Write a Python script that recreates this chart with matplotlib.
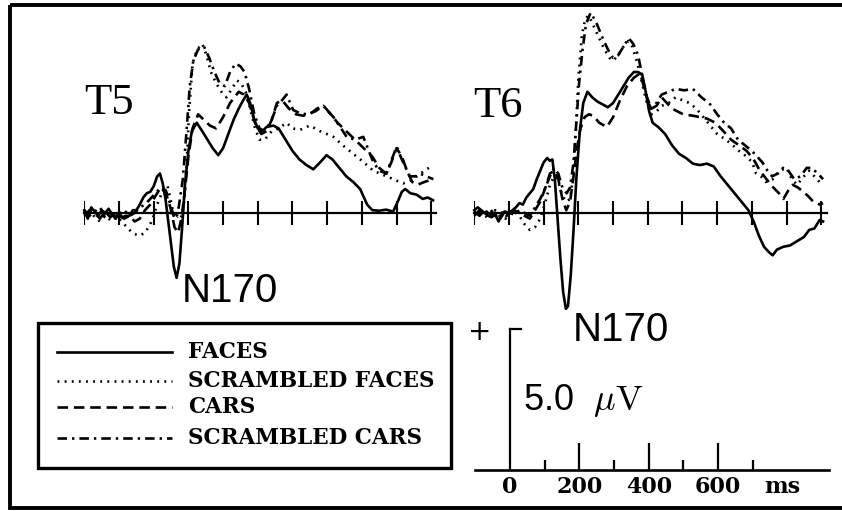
"""ERP waveforms at T5 / T6 for faces, cars and their scrambled versions."""
import matplotlib
matplotlib.use('Agg')
import matplotlib.pyplot as plt
from matplotlib.patches import Rectangle

plt.rcParams['mathtext.fontset'] = 'cm'

# ---- data (time in ms, amplitude in microvolts) ----
t5_faces_t = [-100, -90, -80, -70, -60, -50, -40, -30, -20, -10, 0,
              10, 20, 30, 40, 50, 60, 70, 80, 90, 100, 110,
              118, 126, 134, 142, 150, 158, 166, 174, 182, 190,
              200, 210, 224, 240, 255, 270, 286, 300, 315, 330, 345, 358, 368, 378, 390, 400, 410, 425, 445, 460,
              480, 500, 520, 540, 560, 580, 598, 615, 635, 655, 675, 695, 715, 730, 750, 770, 790, 805, 815, 825,
              840, 858, 875, 890, 905]
t5_faces_v = [0.1, -0.2, 0.2, 0.05, -0.1, 0.1, 0.0, 0.15, -0.05, -0.2, 0.0,
              -0.15, -0.1, -0.1, 0.1, 0.1, 0.3, 0.55, 0.7, 0.75, 0.95, 1.3,
              1.4, 1.05, 0.5, -0.3, -1.1, -1.9, -2.3, -1.8, -0.5, 1.0,
              2.2, 2.9, 3.2, 2.9, 2.6, 2.3, 2.05, 2.3, 2.8, 3.3, 3.7, 4.0, 4.2, 3.9, 3.3, 3.0, 2.85, 3.05, 3.1, 3.0,
              2.6, 2.2, 1.9, 1.7, 1.55, 1.8, 2.05, 1.9, 1.6, 1.3, 1.1, 0.85, 0.3, 0.1, 0.08, 0.12, 0.05, 0.45, 0.75,
              0.85, 0.7, 0.65, 0.5, 0.55, 0.45]

t5_scr_faces_t = [-100, -85, -70, -55, -40, -25, -10, 0, 15, 30, 45, 60, 75, 90,
                  100, 110, 120, 130, 140, 150, 160, 170,
                  178, 186, 194, 202, 212, 225, 240, 252, 265, 280, 295, 310, 325, 340, 352, 365, 378, 392, 405,
                  420, 440, 460, 483, 500, 522, 550, 580, 618, 645, 675, 705, 733, 771, 800, 819, 840, 858, 880, 906]
t5_scr_faces_v = [0.0, 0.15, -0.15, -0.3, -0.1, -0.25, -0.1, -0.2, -0.4, -0.6, -0.75, -0.8, -0.7, -0.4,
                  -0.1, 0.3, 0.6, 0.9, 0.95, 0.4, -0.2, -0.1,
                  -0.2, 0.2, 1.5, 3.6, 5.3, 5.8, 6.0, 5.6, 5.0, 4.6, 4.3, 4.1, 4.4, 4.7, 4.6, 4.3, 3.7, 3.0, 2.6,
                  2.6, 2.9, 3.0, 3.2, 3.0, 2.95, 3.1, 2.9, 2.7, 2.4, 2.1, 1.8, 1.5, 1.3, 1.15, 1.05, 1.15, 1.3, 1.5, 1.7]

t5_cars_t = [-100, -85, -70, -55, -40, -25, -10, 0, 15, 30, 45, 60, 75, 90,
             105, 120, 135, 148, 160, 170, 180, 190, 200, 212,
             228, 245, 262, 280, 300, 320, 345, 360, 375, 392,
             410, 425, 440, 455, 470, 490, 510, 530, 550, 570,
             590, 610, 630, 655, 680, 705, 730, 750, 770, 785,
             800, 815, 830, 845, 860, 880, 905]
t5_cars_v = [-0.1, 0.1, 0.0, -0.2, 0.05, -0.15, 0.0, -0.1, -0.2, -0.1, -0.3, -0.2, 0.1, 0.3,
             0.6, 0.9, 0.7, 0.2, -0.5, -0.7, -0.2, 0.8, 2.0, 3.0,
             3.5, 3.3, 3.1, 3.0, 3.4, 3.9, 4.3, 4.2, 3.9, 3.2,
             2.8, 2.9, 3.3, 3.9, 4.0, 3.7, 3.5, 3.45, 3.5, 3.7,
             3.8, 3.5, 3.2, 2.9, 2.6, 2.3, 2.0, 1.6, 1.4, 1.8,
             2.3, 2.0, 1.5, 1.1, 1.0, 1.1, 1.2]

t5_scr_cars_t = [-100, -85, -70, -55, -40, -25, -10, 0, 15, 30, 45, 60, 75, 90,
                 105, 120, 135, 148, 160, 172, 184, 194, 204, 214,
                 228, 245, 260, 275, 290, 305, 320, 336, 350, 362,
                 375, 390, 405, 420, 440, 455, 470, 483, 502, 520,
                 540, 565, 589, 618, 640, 656, 680, 704, 720, 733,
                 750, 771, 786, 800, 815, 838, 855, 867, 885, 906]
t5_scr_cars_v = [0.1, -0.1, 0.05, 0.2, -0.1, 0.0, -0.2, 0.0, 0.1, -0.1, 0.0, 0.2, 0.3, 0.5,
                 0.7, 0.9, 0.8, 0.3, -0.2, 0.2, 1.2, 2.8, 4.5, 5.4,
                 5.8, 5.9, 5.5, 5.0, 4.6, 4.5, 5.0, 5.3, 5.2, 5.0,
                 4.4, 3.5, 3.0, 2.9, 3.3, 3.8, 4.0, 4.2, 3.65, 3.55,
                 3.5, 3.6, 3.8, 3.4, 3.0, 2.7, 2.6, 2.7, 2.2, 1.8,
                 1.5, 1.4, 1.9, 2.35, 1.9, 1.3, 1.3, 1.4, 1.3, 1.2]

t6_faces_t = [-100, -90, -80, -70, -60, -50, -40, -30, -20, -10, 0,
              10, 20, 30, 40, 50, 60, 70, 80, 90, 100, 110,
              118, 125, 132, 140, 148, 156, 164, 170, 178, 186,
              194, 204, 214, 226, 240, 255, 270, 285, 300, 315,
              330, 345, 360, 372, 384, 394, 404, 414, 430, 450,
              470, 490, 510, 530, 550, 570, 590, 610, 630, 650,
              670, 690, 705, 720, 735, 750, 760, 772, 790, 810,
              830, 850, 865, 880, 895, 905]
t6_faces_v = [0.1, 0.2, 0.1, 0.0, -0.1, -0.15, -0.05, -0.3, 0.0, 0.05, 0.0,
              0.1, 0.2, 0.35, 0.3, 0.55, 0.7, 0.85, 1.2, 1.5, 1.8, 1.95,
              1.85, 1.9, 1.2, -0.2, -1.6, -2.8, -3.4, -3.3, -2.2, -0.6,
              1.2, 2.9, 3.9, 4.3, 4.1, 3.95, 3.85, 3.75, 3.9, 4.2,
              4.5, 4.8, 5.0, 5.0, 4.9, 4.3, 3.6, 3.2, 3.05, 2.8,
              2.4, 2.1, 1.95, 1.75, 1.7, 1.75, 1.65, 1.3, 1.0, 0.7,
              0.4, 0.1, -0.3, -0.8, -1.2, -1.4, -1.5, -1.3, -1.2, -1.15,
              -1.0, -0.85, -0.6, -0.55, -0.25, -0.3]

t6_scr_faces_t = [-100, -85, -70, -55, -40, -25, -10, 0, 15, 30, 45, 60, 75, 90,
                  105, 118, 130, 142, 154, 166, 176, 184, 192, 200,
                  210, 220, 230, 245, 260, 275, 290, 300, 315, 330,
                  344, 355, 368, 382, 395, 410, 425, 440, 460, 480,
                  500, 520, 540, 560, 580, 600, 625, 645, 663, 685,
                  701, 712, 726, 740, 760, 780, 800, 815, 830, 850,
                  865, 880, 895, 906]
t6_scr_faces_v = [0.0, 0.1, -0.1, -0.2, 0.1, -0.15, -0.2, 0.0, 0.05, -0.1, -0.4, -0.6, -0.5, -0.2,
                  0.4, 1.0, 1.3, 1.1, 0.6, 0.4, 0.5, 1.2, 2.8, 4.8,
                  6.3, 6.9, 7.0, 6.6, 6.2, 5.8, 5.5, 5.4, 5.6, 5.9,
                  6.1, 5.9, 5.4, 4.7, 4.0, 3.5, 3.6, 3.8, 3.9, 4.1,
                  4.0, 3.9, 3.7, 3.4, 3.1, 2.8, 2.6, 2.4, 2.2, 2.0,
                  1.8, 1.4, 1.3, 1.1, 1.2, 1.5, 1.6, 1.2, 1.0, 1.3,
                  1.5, 1.3, 1.1, 1.0]

t6_cars_t = [-100, -85, -70, -55, -40, -25, -10, 0, 15, 30, 45, 60, 75, 90,
             105, 118, 130, 142, 154, 165, 176, 186, 196, 206,
             218, 230, 243, 260, 282, 300, 320, 340, 360, 378,
             395, 410, 425, 440, 455, 470, 502, 530, 570, 595,
             618, 640, 663, 685, 705, 723, 742, 762, 778, 791,
             805, 818, 833, 848, 862, 877, 895, 905]
t6_cars_v = [0.05, -0.1, 0.1, -0.05, 0.0, -0.2, 0.1, 0.0, 0.1, 0.0, -0.1, -0.2, 0.1, 0.4,
             0.9, 1.4, 1.5, 1.2, 0.5, 0.1, 0.4, 1.3, 2.3, 3.0,
             3.4, 3.5, 3.45, 3.2, 3.05, 3.4, 4.0, 4.5, 4.8, 4.95,
             4.2, 3.7, 3.8, 4.1, 3.9, 3.7, 3.5, 3.45, 3.35, 3.2,
             2.9, 2.6, 2.4, 2.2, 1.9, 1.5, 1.2, 0.9, 0.7, 0.5,
             0.8, 1.0, 0.9, 0.75, 0.6, 0.4, 0.3, 0.35]

t6_scr_cars_t = [-100, -85, -70, -55, -40, -25, -10, 0, 15, 30, 45, 60, 75, 90,
                 105, 118, 130, 142, 154, 166, 176, 186, 194, 202,
                 212, 222, 235, 250, 270, 285, 300, 315, 330, 345,
                 358, 372, 385, 398, 410, 425, 440, 460, 480, 505,
                 530, 555, 580, 600, 620, 640, 660, 680, 700, 715,
                 730, 745, 758, 775, 790, 805, 822, 840, 858, 872,
                 890, 905]
t6_scr_cars_v = [-0.1, 0.1, 0.0, 0.15, -0.1, 0.05, -0.15, 0.0, -0.05, 0.1, 0.0, -0.1, 0.2, 0.5,
                 0.9, 1.3, 1.6, 1.4, 0.9, 0.7, 0.9, 1.8, 3.2, 4.6,
                 5.8, 6.7, 7.1, 6.8, 6.2, 5.8, 5.5, 5.6, 5.9, 6.2,
                 6.0, 5.6, 4.8, 4.0, 3.7, 3.9, 4.2, 4.3, 4.4, 4.35,
                 4.4, 4.1, 3.85, 3.5, 3.2, 3.0, 2.6, 2.4, 2.2, 2.0,
                 1.8, 1.5, 1.3, 1.4, 1.6, 1.5, 1.2, 1.3, 1.6, 1.6,
                 1.4, 1.2]

conditions = ['FACES', 'SCRAMBLED FACES', 'CARS', 'SCRAMBLED CARS']
time_ticks = [-100, 0, 100, 200, 300, 400, 500, 600, 700, 800, 900]
scale_labels = [0, 200, 400, 600]
scale_minor = [100, 300, 500, 700]
scale_uv = 5.0

styles = {
    'FACES': '-',
    'SCRAMBLED FACES': (0, (0.7, 2.0)),
    'CARS': (0, (4.0, 2.2)),
    'SCRAMBLED CARS': (0, (3.6, 1.9, 0.9, 1.9)),
}

W, H = 842, 511
fig = plt.figure(figsize=(W / 100, H / 100), dpi=100)


def px_axes(left, top, right, bottom):
    # axes placed in pixel coordinates of the figure (y down)
    ax = fig.add_axes([left / W, 1 - bottom / H, (right - left) / W, (bottom - top) / H])
    ax.set_axis_off()
    return ax


def draw_site(ax, series):
    ax.set_xlim(-100, 915)
    ax.set_ylim(-4, 7.5)
    ax.plot([-100, 915], [0, 0], color='black', lw=1.6, clip_on=False)
    ax.vlines(time_ticks, -0.42, 0.42, color='black', lw=1.5)
    for name, (t, v) in zip(conditions, series):
        ax.plot(t, v, color='black', lw=1.9, linestyle=styles[name],
                clip_on=False, solid_joinstyle='round')


ax5 = px_axes(84.3, 1.5, 436.5, 325.8)
draw_site(ax5, [(t5_faces_t, t5_faces_v), (t5_scr_faces_t, t5_scr_faces_v),
                (t5_cars_t, t5_cars_v), (t5_scr_cars_t, t5_scr_cars_v)])

ax6 = px_axes(474.3, 1.5, 826.5, 325.8)
draw_site(ax6, [(t6_faces_t, t6_faces_v), (t6_scr_faces_t, t6_scr_faces_v),
                (t6_cars_t, t6_cars_v), (t6_scr_cars_t, t6_scr_cars_v)])

# calibration bar
axs = px_axes(475.3, 300.8, 827.5, 498.2)
axs.set_xlim(-100, 915)
axs.set_ylim(-1, 6)
axs.plot([-100, 920], [0, 0], color='black', lw=1.9, clip_on=False)
axs.plot([0, 0], [0, scale_uv], color='black', lw=1.6, clip_on=False)
axs.plot([0, 32], [scale_uv, scale_uv], color='black', lw=1.6, clip_on=False)
axs.vlines(scale_labels[1:], 0, 0.95, color='black', lw=1.6)
axs.vlines(scale_minor, 0, 0.35, color='black', lw=1.6)
for v in scale_labels:
    axs.text(v, -0.62, str(v), ha='center', va='center', fontsize=16,
             family='DejaVu Serif', weight='bold')
axs.text(733, -0.62, 'ms', ha='left', va='center', fontsize=16,
         family='DejaVu Serif', weight='bold')
axs.text(-88, 4.9, '+', ha='center', va='center', fontsize=20, family='DejaVu Sans')
axs.text(38, 2.45, '5.0  $\\mu\\mathrm{V}$', ha='left', va='center', fontsize=26,
         family='Liberation Sans')

# overlay in pixel coordinates for frame, labels and legend
ov = px_axes(0, 0, W, H)
ov.set_xlim(0, W)
ov.set_ylim(H, 0)
ov.add_patch(Rectangle((10, 5), 845, 503, fill=False, lw=2.8, ec='black', clip_on=False))

ov.text(84, 103, 'T5', ha='left', va='center', fontsize=32, family='Liberation Serif')
ov.text(473, 106, 'T6', ha='left', va='center', fontsize=32, family='Liberation Serif')
ov.text(182, 291, 'N170', ha='left', va='center', fontsize=29, family='Liberation Sans')
ov.text(573, 330, 'N170', ha='left', va='center', fontsize=29, family='Liberation Sans')

ov.add_patch(Rectangle((38, 323), 413, 145, fill=False, lw=2.4, ec='black'))
rows = [352, 381, 407, 438]
for name, y in zip(conditions, rows):
    ov.plot([57, 172], [y, y], color='black', lw=1.9, linestyle=styles[name])
    ov.text(188, y, name, ha='left', va='center', fontsize=15.5,
            family='DejaVu Serif', weight='bold')

fig.savefig('out.png', dpi=100)
